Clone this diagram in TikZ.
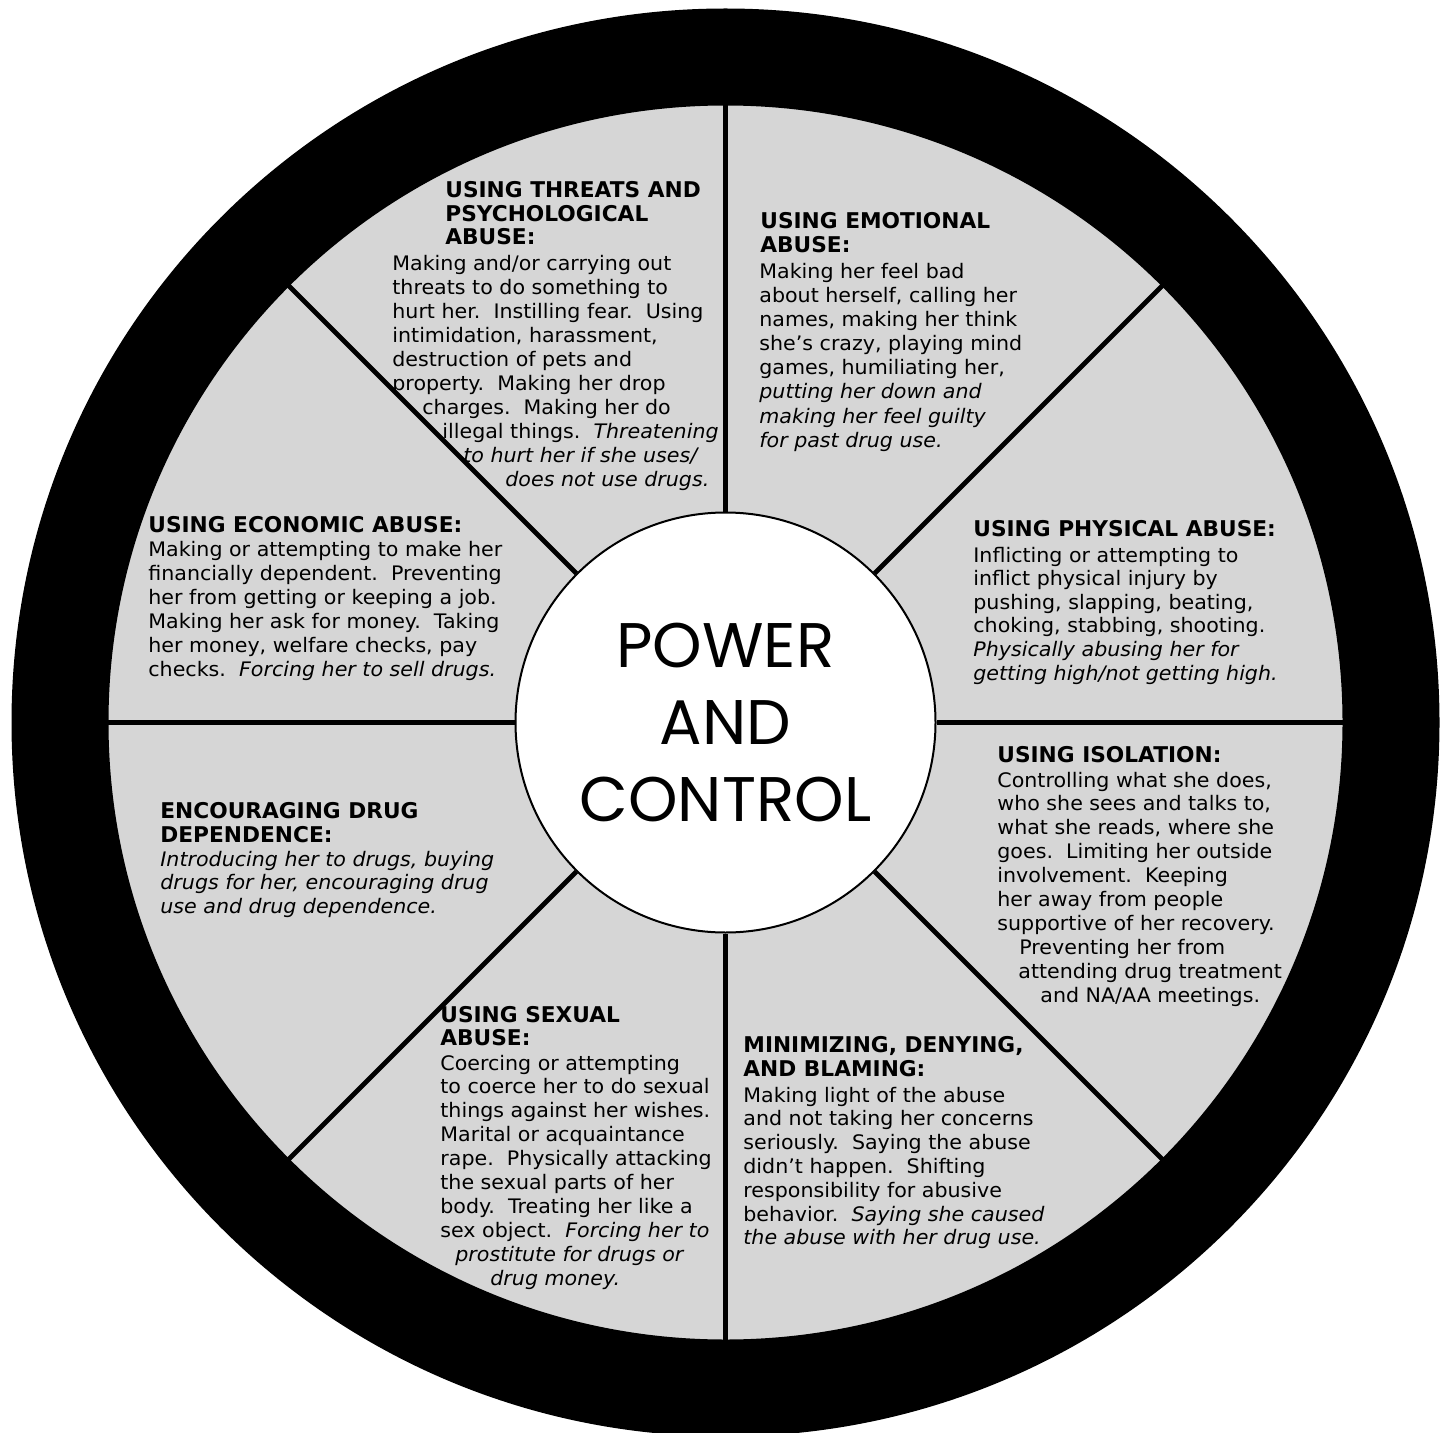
\documentclass[tikz,border=0pt]{standalone}
\usepackage{fontspec}
\usetikzlibrary{calc}
\newfontfamily\bodyfam{DejaVu Sans}[FakeStretch=1.03]
\newfontfamily\headfam{DejaVu Sans}
\newfontfamily\hubfam{Poppins}
\definecolor{wheelgray}{RGB}{214,214,214}
\newcommand\bodyfont{\bodyfam\fontsize{10}{12}\selectfont\frenchspacing}
\newcommand\headfont{\headfam\bfseries\fontsize{10.85}{12}\selectfont}
\newcommand\hubfont{\hubfam\fontsize{31.5}{38.5}\selectfont}
\tikzset{
  body/.style={anchor=base west, inner sep=0pt, font=\bodyfont},
  head/.style={anchor=base west, inner sep=0pt, font=\headfont},
  hub/.style={circle, draw=black, line width=1pt, fill=white, minimum size=210pt,
              inner sep=0pt, align=center, font=\hubfont},
  spoke/.style={line width=2.4pt, black}
}
\begin{document}
\begin{tikzpicture}[x=0.5pt, y=-0.5pt]
\useasboundingbox (0,0) rectangle (1445,1433);
\clip (0,0) rectangle (1445,1433);
\coordinate (C) at (725.5,722.5);
% wheel
\fill[wheelgray] (C) circle[radius=312pt];
\node[hub] (hub) at (C) {POWER\\AND\\CONTROL};
\foreach \a in {0,45,...,315}
  \draw[spoke] (hub.\a) -- ($(hub.center)!3!(hub.\a)$);
\fill[black, even odd rule] (C) circle[radius=357pt] circle[radius=308.5pt];

% threats
\foreach \txt [count=\i] in {USING THREATS AND, PSYCHOLOGICAL, ABUSE:}
  \node[head] (thrT-\i) at (445, {198+23.5*(\i-1)}) {\txt};
\foreach \dx/\txt [count=\i] in {0/{Making and/or carrying out}, 0/{threats to do something to},
    0/{hurt her.~ Instilling fear.~ Using}, 0/{intimidation, harassment,},
    0/{destruction of pets and}, 0/{property.~ Making her drop},
    30/{charges.~ Making her do}, 50/{illegal things.~ \textit{Threatening}},
    71/{\itshape to hurt her if she uses/}, 113/{\itshape does not use drugs.}}
  \node[body] (thr-\i) at ({392+\dx}, {271+23.9*(\i-1)}) {\txt};

% emotional
\foreach \txt [count=\i] in {USING EMOTIONAL, ABUSE:}
  \node[head] (emoT-\i) at (760, {229+24*(\i-1)}) {\txt};
\foreach \txt [count=\i] in {Making her feel bad, {about herself, calling her},
    {names, making her think}, {she’s crazy, playing mind}, {games, humiliating her,},
    {\itshape putting her down and}, {\itshape making her feel guilty}, {\itshape for past drug use.}}
  \node[body] (emo-\i) at (759, {279+24*(\i-1)}) {\txt};

% economic
\node[head] (ecoT-1) at (148,532) {USING ECONOMIC ABUSE:};
\foreach \txt [count=\i] in {Making or attempting to make her, {financially dependent.~ Preventing},
    {her from getting or keeping a job.}, {Making her ask for money.~ Taking},
    {her money, welfare checks, pay}, {checks.~ \textit{Forcing her to sell drugs.}}}
  \node[body] (eco-\i) at (148, {556+24*(\i-1)}) {\txt};

% physical
\node[head] (phyT-1) at (973,536) {USING PHYSICAL ABUSE:};
\foreach \txt [count=\i] in {Inflicting or attempting to, inflict physical injury by,
    {pushing, slapping, beating,}, {choking, stabbing, shooting.},
    {\itshape Physically abusing her for}, {\itshape getting high/not getting high.}}
  \node[body] (phy-\i) at (973, {562+23.6*(\i-1)}) {\txt};

% isolation
\node[head] (isoT-1) at (997,762) {USING ISOLATION:};
\foreach \dx/\txt [count=\i] in {0/{Controlling what she does,}, 0/{who she sees and talks to,},
    0/{what she reads, where she}, 0/{goes.~ Limiting her outside},
    0/{involvement.~ Keeping}, 0/{her away from people},
    0/{supportive of her recovery.}, 22/{Preventing her from},
    21/{attending drug treatment}, 43/{and NA/AA meetings.}}
  \node[body] (iso-\i) at ({997+\dx}, {787+23.9*(\i-1)}) {\txt};

% drug dependence
\foreach \txt [count=\i] in {ENCOURAGING DRUG, DEPENDENCE:}
  \node[head] (depT-\i) at (160, {818+24*(\i-1)}) {\txt};
\foreach \txt [count=\i] in {{\itshape Introducing her to drugs, buying},
    {\itshape drugs for her, encouraging drug}, {\itshape use and drug dependence.}}
  \node[body] (dep-\i) at (160, {866+23.5*(\i-1)}) {\txt};

% sexual
\foreach \txt [count=\i] in {USING SEXUAL, ABUSE:}
  \node[head] (sexT-\i) at (440, {1022+23*(\i-1)}) {\txt};
\foreach \dx/\txt [count=\i] in {0/{Coercing or attempting}, 0/{to coerce her to do sexual},
    0/{things against her wishes.}, 0/{Marital or acquaintance},
    0/{rape.~ Physically attacking}, 0/{the sexual parts of her},
    0/{body.~ Treating her like a}, 0/{sex object.~ \textit{Forcing her to}},
    15/{\itshape prostitute for drugs or}, 50/{\itshape drug money.}}
  \node[body] (sex-\i) at ({440+\dx}, {1070+23.9*(\i-1)}) {\txt};

% minimizing
\foreach \txt [count=\i] in {{MINIMIZING, DENYING,}, AND BLAMING:}
  \node[head] (minT-\i) at (743, {1052+24*(\i-1)}) {\txt};
\foreach \txt [count=\i] in {Making light of the abuse, and not taking her concerns,
    {seriously.~ Saying the abuse}, {didn’t happen.~ Shifting},
    responsibility for abusive, {behavior.~ \textit{Saying she caused}},
    {\itshape the abuse with her drug use.}}
  \node[body] (min-\i) at (743, {1102+23.8*(\i-1)}) {\txt};
\end{tikzpicture}
\end{document}
